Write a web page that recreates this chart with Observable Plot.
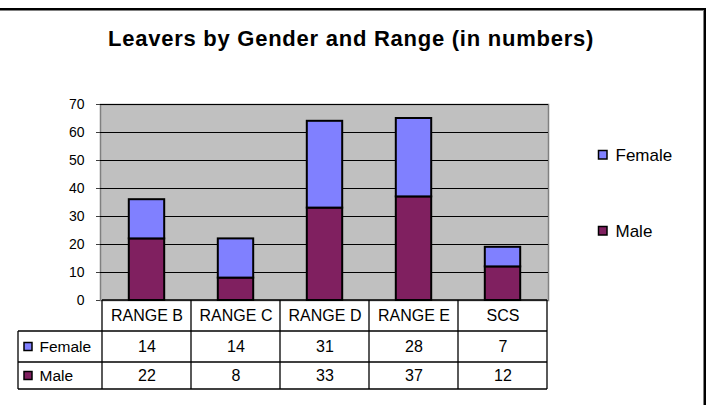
<!DOCTYPE html>
<html><head><meta charset="utf-8">
<script src="https://cdn.jsdelivr.net/npm/d3@7"></script>
<script src="https://cdn.jsdelivr.net/npm/@observablehq/plot@0.6"></script>
<style>
body{margin:0;background:#fff;}
#wrap{position:relative;width:712px;height:405px;overflow:hidden;font-family:"Liberation Sans",Arial,sans-serif;}
#box{position:absolute;left:-20px;top:8px;width:724px;height:420px;border-top:2px solid #000;border-right:2px solid #000;box-shadow:inset -1px 1px 0 #808080;}
#chart{position:absolute;left:0;top:0;}
</style></head><body>
<div id="wrap"><div id="box"></div><div id="chart"></div></div>
<script>
const title = "Leavers by Gender and Range (in numbers)";
const categories = ["RANGE B", "RANGE C", "RANGE D", "RANGE E", "SCS"];
const female = [14, 14, 31, 28, 7];
const male = [22, 8, 33, 37, 12];
const seriesNames = ["Female", "Male"];
const yTicks = [0, 10, 20, 30, 40, 50, 60, 70];
const colors = {Female: "#8080ff", Male: "#802060"};

const data = [];
categories.forEach((c, i) => {
  data.push({category: c, gender: "Male", value: male[i]});
  data.push({category: c, gender: "Female", value: female[i]});
});

const W = 712, H = 405, ML = 100, MR = 164, MT = 104, MB = 105;
const tableLeft = 18;
const rowBottoms = [31, 62, 89];

function tableGrid(index, scales, values, dims) {
  const x = scales.x, y = scales.y;
  const bw = typeof x.bandwidth === "function" ? x.bandwidth() : (x.bandwidth ?? (W - ML - MR) / categories.length);
  const y0 = y(0);
  const g = d3.create("svg:g");
  const lines = g.append("g").attr("stroke", "#000").attr("stroke-width", 1.3).attr("fill", "none");
  const xr = x(categories[categories.length - 1]) + bw;
  const rb = rowBottoms.map(d => y0 + d);
  const line = (x1, y1, x2, y2) => lines.append("line").attr("x1", x1).attr("y1", y1).attr("x2", x2).attr("y2", y2);
  categories.forEach(c => line(x(c), y0, x(c), rb[2]));
  line(xr, y0, xr, rb[2]);
  line(tableLeft, rb[0], tableLeft, rb[2]);
  line(x(categories[0]), y0, xr, y0);
  rb.forEach(v => line(tableLeft, v, xr, v));
  // row-label swatches
  const sw = g.append("g").attr("stroke", "#000").attr("stroke-width", 1.5);
  seriesNames.forEach((s, i) => {
    const cy = y0 + (i === 0 ? 46.5 : 75.5);
    sw.append("rect").attr("x", 24).attr("y", cy - 4).attr("width", 8).attr("height", 8).attr("fill", colors[s]);
  });
  // legend swatches
  const legY = [155, 231];
  seriesNames.forEach((s, i) => {
    sw.append("rect").attr("x", 598.5).attr("y", legY[i] - 4.5).attr("width", 8.5).attr("height", 8.5).attr("fill", colors[s]);
  });
  return g.node();
}

const chart = Plot.plot({
  width: W, height: H,
  marginLeft: ML, marginRight: MR, marginTop: MT, marginBottom: MB,
  style: {fontFamily: "'Liberation Sans', Arial, sans-serif", fontSize: "14px", color: "#000", background: "transparent"},
  x: {type: "band", domain: categories, padding: 0, axis: null},
  y: {domain: [0, 70]},
  color: {domain: seriesNames, range: seriesNames.map(s => colors[s])},
  marks: [
    Plot.frame({fill: "#c0c0c0", stroke: "#808080", strokeWidth: 1.5}),
    Plot.ruleY(yTicks.filter(v => v > 0), {stroke: "#000", strokeWidth: 1.2}),
    Plot.axisY(yTicks, {tickSize: 4, tickPadding: 12, fontSize: 14, label: null, stroke: "#404040"}),
    Plot.barY(data, Plot.stackY({x: "category", y: "value", fill: "gender", order: ["Male", "Female"], stroke: "#000", strokeWidth: 2, insetLeft: 26.8, insetRight: 26.8})),
    tableGrid,
    Plot.text(categories, {x: d => d, y: () => 0, dy: 15.5, fontSize: 16}),
    Plot.text(female, {x: (d, i) => categories[i], y: () => 0, text: d => String(d), dy: 46.5, fontSize: 16}),
    Plot.text(male, {x: (d, i) => categories[i], y: () => 0, text: d => String(d), dy: 75.5, fontSize: 16}),
    Plot.text([seriesNames[0]], {frameAnchor: "bottom-left", lineAnchor: "middle", dx: -61, dy: 46.5, textAnchor: "start", fontSize: 15.5}),
    Plot.text([seriesNames[1]], {frameAnchor: "bottom-left", lineAnchor: "middle", dx: -61, dy: 75.5, textAnchor: "start", fontSize: 15.5}),
    Plot.text([title], {frameAnchor: "top", lineAnchor: "middle", dx: 26.5, dy: -66, fontSize: 22, fontWeight: "bold"}),
    Plot.text([seriesNames[0]], {frameAnchor: "top-right", lineAnchor: "middle", dx: 67, dy: 51, textAnchor: "start", fontSize: 17}),
    Plot.text([seriesNames[1]], {frameAnchor: "top-right", lineAnchor: "middle", dx: 67, dy: 127, textAnchor: "start", fontSize: 17})
  ]
});
d3.select(chart).selectAll("text").filter(function() { return this.textContent === title; }).attr("letter-spacing", "0.75");
document.getElementById("chart").appendChild(chart);
</script>
</body></html>
